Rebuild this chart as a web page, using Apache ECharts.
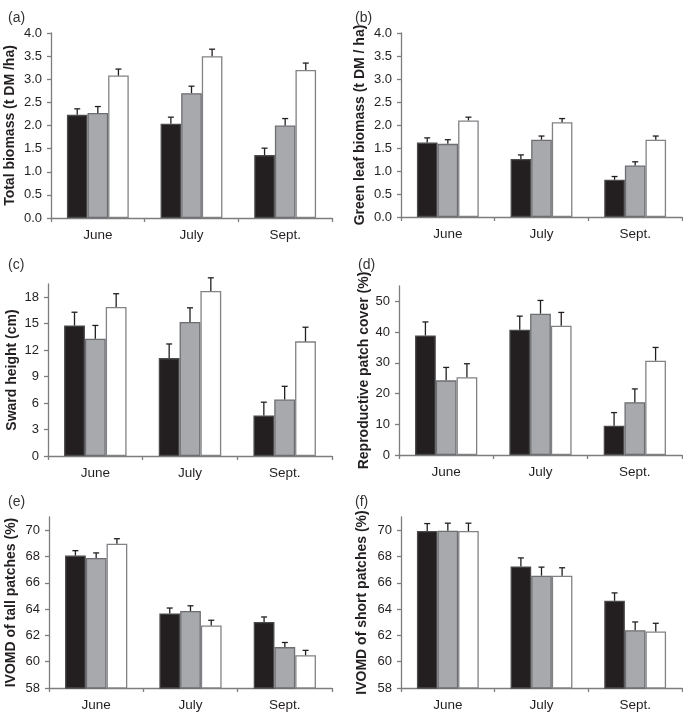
<!DOCTYPE html>
<html><head><meta charset="utf-8">
<script src="https://cdn.jsdelivr.net/npm/echarts@6/dist/echarts.min.js"></script>
<style>html,body{margin:0;padding:0;background:#fff}#c{width:683px;height:712px}</style>
</head><body><div id="c"></div>
<script>
const categories = ['June', 'July', 'Sept.'];

// (a) Total biomass
const aBlack = [2.23, 2.04, 1.36], aBlackSE = [0.13, 0.14, 0.15];
const aGrey = [2.27, 2.70, 2.00], aGreySE = [0.14, 0.15, 0.15];
const aWhite = [3.08, 3.50, 3.20], aWhiteSE = [0.14, 0.15, 0.15];
// (b) Green leaf biomass
const bBlack = [1.62, 1.26, 0.81], bBlackSE = [0.10, 0.09, 0.07];
const bGrey = [1.59, 1.68, 1.12], bGreySE = [0.09, 0.08, 0.08];
const bWhite = [2.10, 2.06, 1.68], bWhiteSE = [0.07, 0.08, 0.08];
// (c) Sward height
const cBlack = [14.8, 11.1, 4.6], cBlackSE = [1.5, 1.6, 1.5];
const cGrey = [13.3, 15.2, 6.4], cGreySE = [1.5, 1.6, 1.5];
const cWhite = [16.9, 18.7, 13.0], cWhiteSE = [1.5, 1.5, 1.6];
// (d) Reproductive patch cover
const dBlack = [38.9, 40.8, 9.5], dBlackSE = [4.4, 4.4, 4.3];
const dGrey = [24.3, 46.0, 17.2], dGreySE = [4.2, 4.3, 4.3];
const dWhite = [25.3, 42.1, 30.7], dWhiteSE = [4.4, 4.3, 4.3];
// (e) IVOMD of tall patches
const eBlack = [68.07, 63.67, 63.02], eBlackSE = [0.37, 0.41, 0.38];
const eGrey = [67.89, 63.85, 61.11], eGreySE = [0.38, 0.40, 0.35];
const eWhite = [68.97, 62.75, 60.49], eWhiteSE = [0.38, 0.40, 0.37];
// (f) IVOMD of short patches
const fBlack = [69.93, 67.24, 64.63], fBlackSE = [0.57, 0.65, 0.60];
const fGrey = [69.95, 66.54, 62.39], fGreySE = [0.58, 0.65, 0.63];
const fWhite = [69.93, 66.54, 62.29], fWhiteSE = [0.60, 0.60, 0.63];

const ticksAB = [0, 0.5, 1, 1.5, 2, 2.5, 3, 3.5, 4];
const ticksC = [0, 3, 6, 9, 12, 15, 18];
const ticksD = [0, 10, 20, 30, 40, 50];
const ticksEF = [58, 60, 62, 64, 66, 68, 70];

const panels = [
  {lab:'(a)', name:'Total biomass (t DM /ha)', grid:{left:51,top:33,width:281,height:185}, min:0, max:4, ticks:ticksAB, dec:1, gap:34, lx:3, ly:6,
   vals:[aBlack,aGrey,aWhite], errs:[aBlackSE,aGreySE,aWhiteSE]},
  {lab:'(b)', name:'Green leaf biomass (t DM / ha)', grid:{left:401,top:33,width:281,height:184}, min:0, max:4, ticks:ticksAB, dec:1, gap:34, lx:350, ly:6,
   vals:[bBlack,bGrey,bWhite], errs:[bBlackSE,bGreySE,bWhiteSE]},
  {lab:'(c)', name:'Sward height (cm)', grid:{left:48,top:284,width:284,height:172}, min:0, max:19.5, ticks:ticksC, dec:0, gap:29, lx:3, ly:253,
   vals:[cBlack,cGrey,cWhite], errs:[cBlackSE,cGreySE,cWhiteSE]},
  {lab:'(d)', name:'Reproductive patch cover (%)', grid:{left:399,top:286,width:283,height:169}, min:0, max:55, ticks:ticksD, dec:0, gap:22, lx:353, ly:253,
   vals:[dBlack,dGrey,dWhite], errs:[dBlackSE,dGreySE,dWhiteSE]},
  {lab:'(e)', name:'IVOMD of tall patches (%)', grid:{left:49,top:517,width:283,height:172}, min:58, max:71, ticks:ticksEF, dec:0, gap:31, lx:3, ly:490,
   vals:[eBlack,eGrey,eWhite], errs:[eBlackSE,eGreySE,eWhiteSE]},
  {lab:'(f)', name:'IVOMD of short patches (%)', grid:{left:401,top:517,width:281,height:172}, min:58, max:71, ticks:ticksEF, dec:0, gap:32, lx:350, ly:490,
   vals:[fBlack,fGrey,fWhite], errs:[fBlackSE,fGreySE,fWhiteSE]}
];

const FONT = 'Liberation Sans, Arial, Helvetica, sans-serif';
const AX = '#7d7d7d';
const fills = ['#231f20', '#a7a9ac', '#ffffff'];
const borders = ['#4a4a4a', '#6d6e71', '#808285'];
const CATGAP = 0.34;

const grids = [], xAxes = [], yAxes = [], series = [], titles = [];
panels.forEach((p, k) => {
  grids.push(p.grid);
  titles.push({text:p.lab, left:p.lx, top:p.ly, textStyle:{fontFamily:FONT, fontSize:14, fontWeight:'normal', color:'#333'}});
  xAxes.push({type:'category', gridIndex:k, data:categories,
    axisLine:{lineStyle:{color:AX, width:1.3}},
    axisTick:{show:true, length:4, interval:0, lineStyle:{color:AX, width:1.3}},
    axisLabel:{fontFamily:FONT, fontSize:13.5, color:'#231f20', margin:10, interval:0}});
  yAxes.push({type:'value', gridIndex:k, min:p.min, max:p.max,
    name:p.name, nameLocation:'middle', nameGap:p.gap,
    nameTextStyle:{fontFamily:FONT, fontSize:14, fontWeight:'bold', color:'#231f20'},
    axisLine:{show:true, lineStyle:{color:AX, width:1.3}},
    axisTick:{show:true, length:4, customValues:p.ticks, lineStyle:{color:AX, width:1.3}},
    axisLabel:{customValues:p.ticks, fontFamily:FONT, fontSize:13, color:'#231f20', margin:9,
      formatter:v => Number(v).toFixed(p.dec)},
    splitLine:{show:false}});
  p.vals.forEach((arr, i) => {
    series.push({type:'bar', xAxisIndex:k, yAxisIndex:k, data:arr,
      barGap:'0%', barCategoryGap:(CATGAP*100)+'%',
      itemStyle:{color:fills[i], borderColor:borders[i], borderWidth:1.3},
      silent:true, animation:false});
  });
  p.vals.forEach((arr, i) => {
    const errs = p.errs[i];
    series.push({type:'custom', xAxisIndex:k, yAxisIndex:k, clip:false, silent:true, animation:false, z:5,
      data: arr.map((v, j) => [j, v, errs[j]]),
      encode:{x:0, y:1},
      renderItem:(params, api) => {
        const ci = api.value(0), v = api.value(1), e = api.value(2);
        const base = api.coord([ci, v]);
        const top = api.coord([ci, v + e]);
        const bw = api.size([1, 0])[0] * (1 - CATGAP) / 3;
        const x = base[0] + (i - 1) * bw;
        const st = {stroke:'#231f20', lineWidth:1.3};
        return {type:'group', children:[
          {type:'line', shape:{x1:x, y1:base[1], x2:x, y2:top[1]}, style:st},
          {type:'line', shape:{x1:x - 3, y1:top[1], x2:x + 3, y2:top[1]}, style:st}
        ]};
      }});
  });
});

const chart = echarts.init(document.getElementById('c'), null, {renderer:'canvas'});
chart.setOption({animation:false, backgroundColor:'#fff', title:titles, grid:grids, xAxis:xAxes, yAxis:yAxes, series:series});
</script>
</body></html>
